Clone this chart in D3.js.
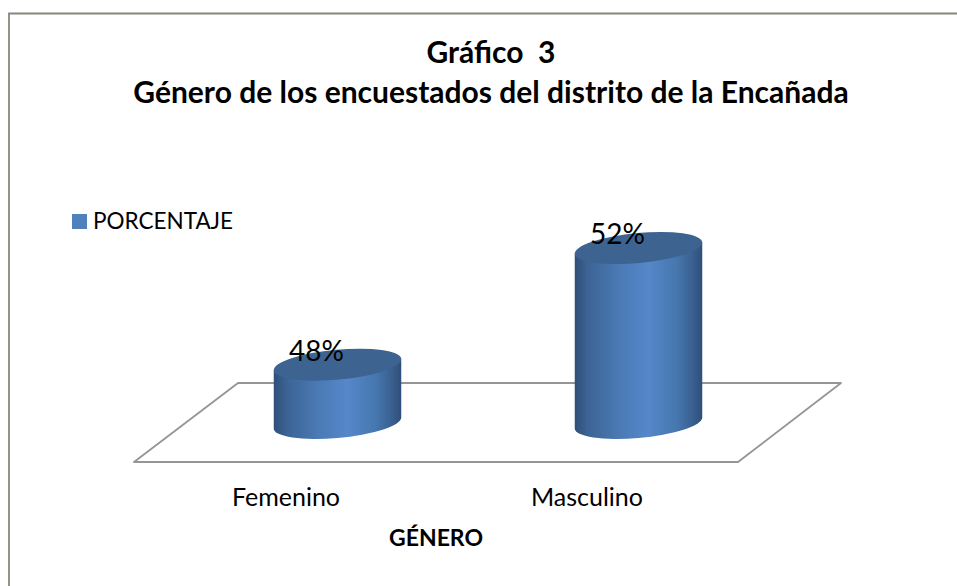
<!DOCTYPE html>
<html><head><meta charset="utf-8">
<script src="https://cdn.jsdelivr.net/npm/d3@7/dist/d3.min.js"></script>
<style>html,body{margin:0;padding:0;background:#fff}svg{display:block}text{font-family:Lato,"Open Sans",sans-serif;fill:#000}</style>
</head><body><svg id="c" width="957" height="586"></svg>
<script>
const categories = ["Femenino", "Masculino"];
const values = [0.48, 0.52];
const labels = ["48%", "52%"];
const titleLines = ["Gráfico  3", "Género de los encuestados del distrito de la Encañada"];
const legendLabel = "PORCENTAJE";
const axisTitle = "GÉNERO";

const svg = d3.select("#c");
const x = d3.scaleBand().domain(categories).range([187, 789]);
const y = d3.scaleLinear().domain([0.46, 0.52]).range([423, 248]);

svg.append("path").attr("d", "M9 586V13.5H957").attr("fill", "none").attr("stroke", "#87877f").attr("stroke-width", 1.8);

const g = svg.append("defs").append("linearGradient").attr("id", "cyl");
[[0, "#2f4f78"], [0.1, "#3c6394"], [0.35, "#4b7ab5"], [0.58, "#5587ca"], [0.8, "#4677ae"], [0.93, "#395f8f"], [1, "#2f4f78"]]
  .forEach(s => g.append("stop").attr("offset", s[0]).attr("stop-color", s[1]));

svg.append("path")
  .attr("d", d3.line()([[134, 462], [738, 462], [841, 383], [238, 383]]) + "Z")
  .attr("fill", "#fff").attr("stroke", "#959595").attr("stroke-width", 1.8).attr("stroke-linejoin", "round");

const rx = 64, ry = 15, tilt = -5.2 * Math.PI / 180;
const t0 = Math.atan(-(ry / rx) * Math.tan(tilt));
const pt = t => [rx * Math.cos(t) * Math.cos(tilt) - ry * Math.sin(t) * Math.sin(tilt),
                 rx * Math.cos(t) * Math.sin(tilt) + ry * Math.sin(t) * Math.cos(tilt)];
const R = pt(t0), L = pt(t0 + Math.PI);
const deg = tilt * 180 / Math.PI;

categories.forEach((c, i) => {
  const cx = x(c) + x.bandwidth() / 2, top = y(values[i]), bot = y.range()[0];
  svg.append("path")
    .attr("d", `M${cx + L[0]} ${top + L[1]}L${cx + L[0]} ${bot + L[1]}A${rx} ${ry} ${deg} 0 0 ${cx + R[0]} ${bot + R[1]}L${cx + R[0]} ${top + R[1]}Z`)
    .attr("fill", "url(#cyl)");
  svg.append("ellipse").attr("cx", 0).attr("cy", 0).attr("rx", rx).attr("ry", ry)
    .attr("transform", `translate(${cx},${top}) rotate(${deg})`)
    .attr("fill", "#3d6391");
  svg.append("text").attr("x", cx - 21).attr("y", top - 4).attr("text-anchor", "middle")
    .attr("font-size", 28).text(labels[i]);
  svg.append("text").attr("x", cx - 51.5).attr("y", 506).attr("text-anchor", "middle")
    .attr("font-size", 25).text(c);
});

titleLines.forEach((t, i) => svg.append("text").attr("x", 491).attr("y", [63, 103][i])
  .attr("text-anchor", "middle").attr("font-size", 30).attr("font-weight", 700).style("white-space", "pre").text(t));

svg.append("rect").attr("x", 72).attr("y", 214).attr("width", 15).attr("height", 15).attr("fill", "#4f81bd");
svg.append("text").attr("x", 93).attr("y", 229).attr("font-size", 22.5).text(legendLabel);
svg.append("text").attr("x", 436).attr("y", 546).attr("text-anchor", "middle").attr("font-size", 23).attr("font-weight", 700).text(axisTitle);
</script></body></html>
